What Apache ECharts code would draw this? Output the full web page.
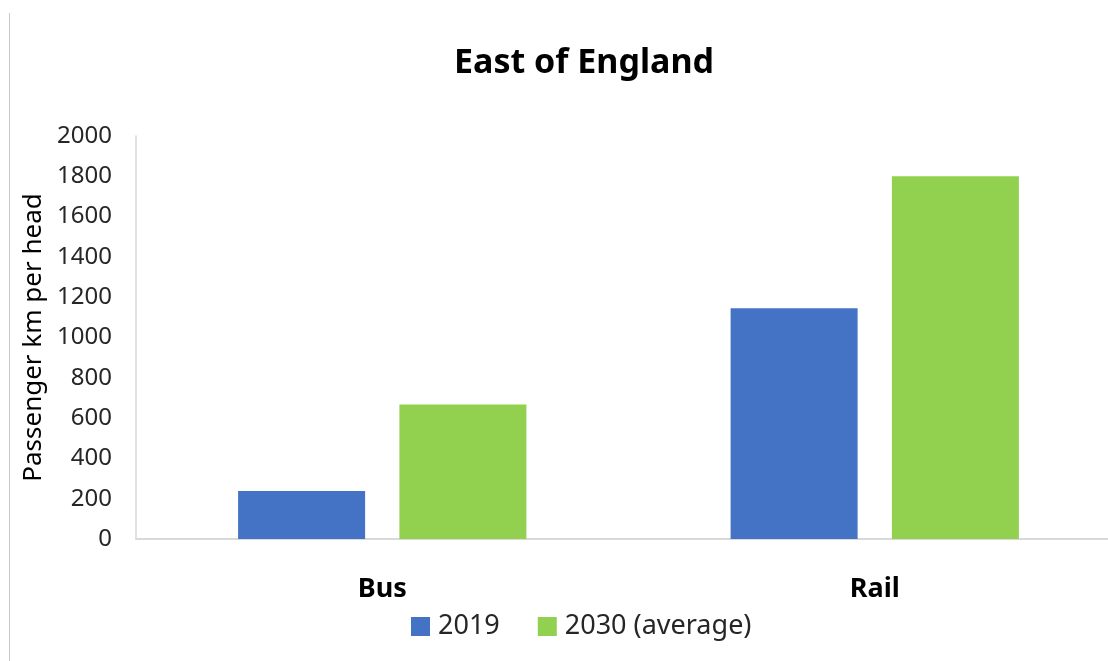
<!DOCTYPE html>
<html>
<head>
<meta charset="utf-8">
<script src="https://cdn.jsdelivr.net/npm/echarts@6/dist/echarts.min.js"></script>
<style>
html,body{margin:0;padding:0;background:#fff;}
#chart{width:1108px;height:661px;}
</style>
</head>
<body>
<div id="chart"></div>
<script>
const categories = ['Bus', 'Rail'];
const seriesNames = ['2019', '2030 (average)'];
const values2019 = [238, 1145];
const values2030 = [668, 1800];
const yTicks = { min: 0, max: 2000, interval: 200 };
const titleText = 'East of England';
const yAxisTitle = 'Passenger km per head';

const FONT = '"Noto Sans", sans-serif';
const chart = echarts.init(document.getElementById('chart'), null, { renderer: 'canvas' });
chart.setOption({
  backgroundColor: '#ffffff',
  animation: false,
  title: {
    text: titleText,
    left: 584,
    top: 46,
    padding: 0,
    textAlign: 'center',
    textStyle: { fontFamily: FONT, fontWeight: 'bold', fontSize: 34, color: '#000000' }
  },
  legend: {
    data: seriesNames,
    left: 411,
    top: 613,
    padding: 0,
    itemWidth: 19,
    itemHeight: 19,
    itemGap: 38,
    icon: 'rect',
    textStyle: { fontFamily: FONT, fontSize: 27, color: '#262626', padding: [0, 0, 0, 3] }
  },
  grid: { left: 136, top: 136, width: 985, height: 403, containLabel: false, outerBoundsMode: 'none' },
  xAxis: {
    type: 'category',
    data: categories,
    axisLine: { show: true, lineStyle: { color: '#d9d9d9', width: 2 } },
    axisTick: { show: false },
    axisLabel: { margin: 37, fontFamily: FONT, fontWeight: 'bold', fontSize: 27, color: '#000000' },
    splitLine: { show: false }
  },
  yAxis: {
    type: 'value',
    min: yTicks.min,
    max: yTicks.max,
    interval: yTicks.interval,
    name: yAxisTitle,
    nameLocation: 'middle',
    nameGap: 77,
    nameTextStyle: { fontFamily: FONT, fontSize: 26, color: '#000000' },
    axisLine: { show: true, lineStyle: { color: '#d9d9d9', width: 1.5 } },
    axisTick: { show: false },
    axisLabel: { margin: 24, fontFamily: FONT, fontSize: 24, color: '#262626',
      formatter: function (v) { return String(v); } },
    splitLine: { show: false }
  },
  series: [
    { name: seriesNames[0], type: 'bar', data: values2019, barWidth: 127, barGap: '27%',
      itemStyle: { color: '#4472C4' } },
    { name: seriesNames[1], type: 'bar', data: values2030, barWidth: 127, barGap: '27%',
      itemStyle: { color: '#92D050' } }
  ],
  graphic: [
    { type: 'line', shape: { x1: 9.5, y1: 13, x2: 9.5, y2: 661 },
      style: { stroke: '#c8c8c8', lineWidth: 1 }, silent: true }
  ]
});
</script>
</body>
</html>
